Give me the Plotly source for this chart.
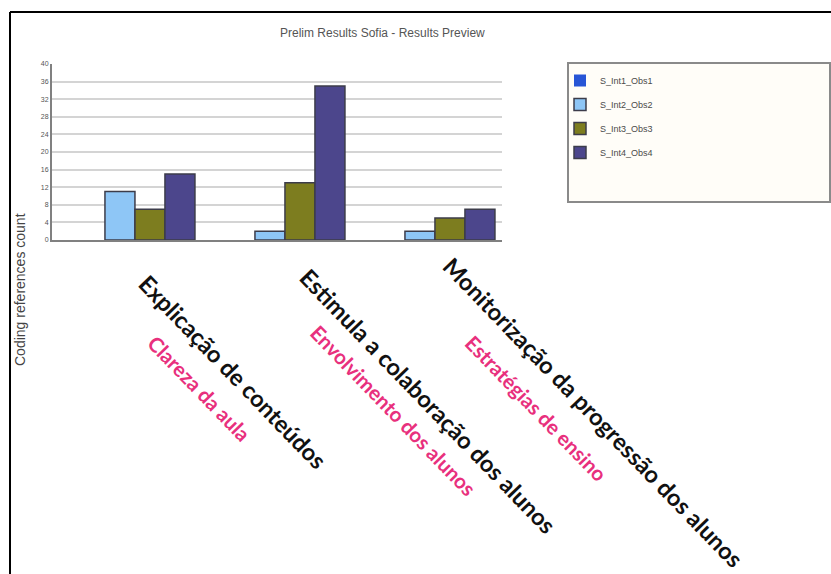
import plotly.graph_objects as go

# Data
categories = [
    "Explicação de conteúdos",
    "Estimula a colaboração dos alunos",
    "Monitorização da progressão dos alunos",
]
subtitles = ["Clareza da aula", "Envolvimento dos alunos", "Estratégias de ensino"]
series_names = ["S_Int1_Obs1", "S_Int2_Obs2", "S_Int3_Obs3", "S_Int4_Obs4"]
s_int1_obs1 = [0, 0, 0]
s_int2_obs2 = [11, 2, 2]
s_int3_obs3 = [7, 13, 5]
s_int4_obs4 = [15, 35, 7]
y_ticks = list(range(0, 41, 4))

series_values = [s_int1_obs1, s_int2_obs2, s_int3_obs3, s_int4_obs4]
colors = ["#2755d6", "#8ec6f6", "#7d7d1f", "#4c468c"]

W, H = 831, 574
L, R, T, B = 52, 329, 64, 334
PW, PH = W - L - R, H - T - B


def px(x):
    return (x - L) / PW


def py(y):
    return (H - B - y) / PH


fig = go.Figure()
for name, vals, col in zip(series_names, series_values, colors):
    # empty bars get no outline so nothing is drawn on the baseline
    widths = [1.5 if v > 0 else 0 for v in vals]
    fig.add_trace(go.Bar(
        x=categories, y=vals, name=name, legendgroup=name,
        marker=dict(color=col, line=dict(color="#3c3c4a", width=widths)),
    ))

annotations = [
    dict(text="Prelim Results Sofia - Results Preview", x=px(382), y=py(33),
         font=dict(family="Liberation Sans Narrow, Arial Narrow, sans-serif", size=12, color="#555555")),
    dict(text="Coding references count", x=px(20), y=py(290), textangle=-90,
         font=dict(family="Liberation Sans Narrow, Arial Narrow, sans-serif", size=14, color="#444444")),
]

# Rotated category labels with their pink sub-headings
label_pos = [(233, 372), (428, 401), (593, 412)]
sub_pos = [(199, 388), (393, 410), (536, 408)]
for cat, (cx, cy) in zip(categories, label_pos):
    annotations.append(dict(text="<b>" + cat + "</b>", x=px(cx), y=py(cy), textangle=46,
                            font=dict(family="Lato, sans-serif", size=23.5, color="#111111")))
for sub, (sx, sy) in zip(subtitles, sub_pos):
    annotations.append(dict(text="<b>" + sub + "</b>", x=px(sx), y=py(sy), textangle=46,
                            font=dict(family="Lato, sans-serif", size=20.5, color="#e8307d")))

for a in annotations:
    a.update(xref="paper", yref="paper", showarrow=False, xanchor="center", yanchor="middle")

shapes = [
    # legend box
    dict(type="rect", xref="paper", yref="paper", x0=px(568), x1=px(830), y0=py(202), y1=py(63),
         fillcolor="#fffdf8", line=dict(color="#8a8a8a", width=2), layer="below"),
    # outer frame
    dict(type="line", xref="paper", yref="paper", x0=px(10), x1=px(10), y0=py(12), y1=py(574),
         line=dict(color="#000000", width=2)),
    dict(type="line", xref="paper", yref="paper", x0=px(10), x1=px(831), y0=py(12), y1=py(12),
         line=dict(color="#000000", width=2)),
]

fig.update_layout(
    width=W, height=H,
    margin=dict(l=L, r=R, t=T, b=B),
    paper_bgcolor="white", plot_bgcolor="white",
    barmode="group", bargap=0.2, bargroupgap=0,
    showlegend=True,
    legend=dict(x=px(560), y=py(66), xanchor="left", yanchor="top",
                bgcolor="rgba(0,0,0,0)", borderwidth=0,
                font=dict(family="Liberation Sans Narrow, Arial Narrow, sans-serif", size=9, color="#4a4a4a"),
                traceorder="grouped", tracegroupgap=5, itemwidth=30),
    annotations=annotations,
    shapes=shapes,
    xaxis=dict(type="category", range=[-0.553, 2.447], showticklabels=False, ticks="",
               showgrid=False, showline=True, linecolor="#808080", linewidth=2, zeroline=False),
    yaxis=dict(range=[0, 40], tickvals=y_ticks, ticktext=[str(v) for v in y_ticks],
               showgrid=True, gridcolor="#d4d4d4", gridwidth=1.5,
               showline=True, linecolor="#808080", linewidth=2, zeroline=False,
               ticks="", tickfont=dict(family="Liberation Sans Narrow, sans-serif", size=7, color="#555555")),
)

fig.write_html("out.html")
